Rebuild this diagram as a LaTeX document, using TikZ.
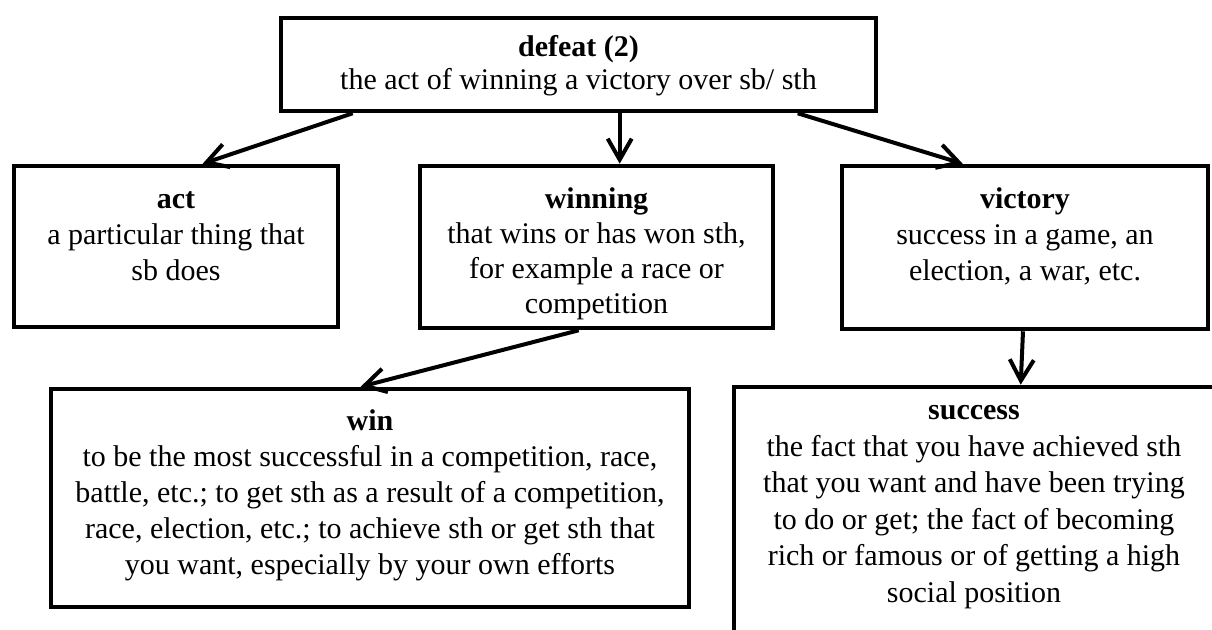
\documentclass[tikz,border=0pt]{standalone}
\usepackage{fontspec}
\setmainfont{Liberation Serif}
\usetikzlibrary{arrows.meta,calc}
\newcommand{\boxtxt}[4]{\parbox[c][#2][t]{#1}{\centering\vspace*{#3}\strut #4\par}}
\begin{document}
\begin{tikzpicture}[x=0.5pt,y=-0.5pt,
  box/.style={draw, line width=2.3pt, inner sep=0pt, font=\fontsize{15}{18}\selectfont},
  arr/.style={line width=2pt, -{Straight Barb[length=10.5pt,width=12pt]}}]
\useasboundingbox (0,0) rectangle (1212,630);

\node[box] (defeat) at (578.5,64.5) {\boxtxt{297.5pt}{46.5pt}{6.6pt}{\textbf{defeat (2)}\\[-1.5pt]the act of winning a victory over sb/ sth}};

\node[box] (act) at (176,246.5) {\boxtxt{162pt}{80.5pt}{8.9pt}{\textbf{act}\\a particular thing that\\sb does}};

\node[box] (winning) at (596.5,247) {\boxtxt{176.5pt}{81pt}{8.9pt}{\textbf{winning}\\[-0.5pt]that wins or has won sth,\\[-0.5pt]for example a race or\\[-0.5pt]competition}};

\node[box] (victory) at (1025,247.5) {\boxtxt{183pt}{81.5pt}{8.9pt}{\textbf{victory}\\success in a game, an\\election, a war, etc.}};

\node[box] (win) at (370,498) {\boxtxt{319pt}{109pt}{8.4pt}{\textbf{win}\\to be the most successful in a competition, race,\\battle, etc.; to get sth as a result of a competition,\\race, election, etc.; to achieve sth or get sth that\\you want, especially by your own efforts}};

\node[box, font=\fontsize{15}{18.25}\selectfont] (success) at (974,518.5) {\boxtxt{240pt}{131.5pt}{3.7pt}{\textbf{success}\\the fact that you have achieved sth\\that you want and have been trying\\to do or get; the fact of becoming\\rich or famous or of getting a high\\social position}};

\draw[arr] ($(defeat.south west)+(74,0)$) -- ($(act.north west)+(191,0)$);
\draw[arr] ($(defeat.south west)+(341,0)$) -- ($(winning.north west)+(202,0)$);
\draw[arr] ($(defeat.south west)+(519,0)$) -- ($(victory.north west)+(123,0)$);
\draw[arr] ($(winning.south west)+(161,0)$) -- ($(win.north west)+(312,0)$);
\draw[arr] ($(victory.south)+(-2,0)$) -- ($(success.north west)+(289,0)$);
\end{tikzpicture}
\end{document}
